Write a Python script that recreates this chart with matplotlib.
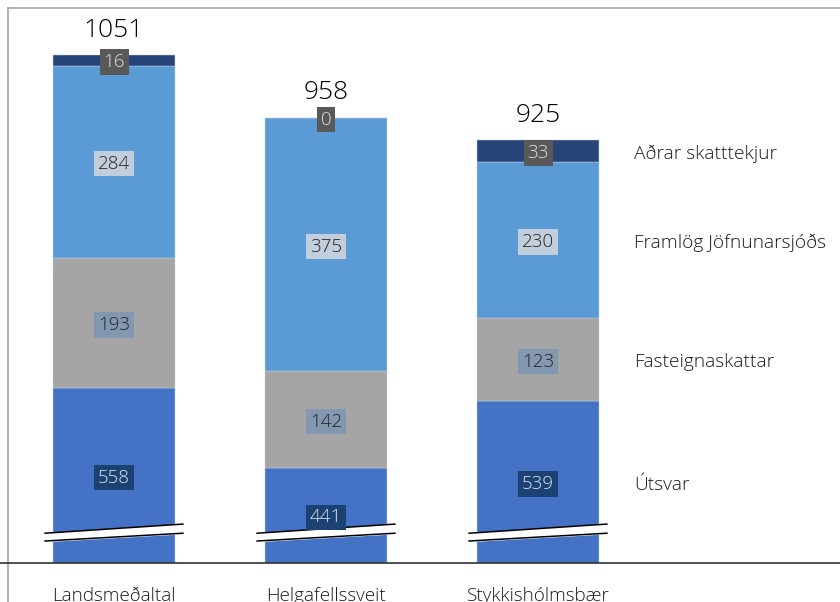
import matplotlib.pyplot as plt
import numpy as np

plt.rcParams['font.family'] = ['Open Sans', 'DejaVu Sans']

# data
categories = ["Landsmeðaltal", "Helgafellssveit", "Stykkishólmsbær"]
series_names = ["Útsvar", "Fasteignaskattar", "Framlög Jöfnunarsjóðs", "Aðrar skatttekjur"]
utsvar = [558, 441, 539]
fasteign = [193, 142, 123]
framlog = [284, 375, 230]
adrar = [16, 0, 33]
totals = [1051, 958, 925]

y_min, y_max = 300, 1120

bar_colors = ["#4472C4", "#A5A5A5", "#5B9BD5", "#264478"]
box_colors = ["#1B4272", "#8497B0", "#C3CEDC", "#595959"]
txt_colors = ["#DCE6F2", "#222222", "#222222", "#E0E0E0"]

fig = plt.figure(figsize=(8.4, 6.02), dpi=100)
ax = fig.add_axes([8 / 840, 39 / 602, 832 / 840, 555 / 602])

x = np.arange(len(categories))
width = 0.575
series = [utsvar, fasteign, framlog, adrar]
bottom = np.zeros(len(categories))
for k, vals in enumerate(series):
    vals = np.array(vals, dtype=float)
    ax.bar(x, vals, width, bottom=bottom, color=bar_colors[k],
           edgecolor="#C9D6E6", linewidth=0.3, zorder=2)
    for i in range(len(x)):
        lo = max(bottom[i], y_min)
        hi = bottom[i] + vals[i]
        ymid = (lo + hi) / 2
        ax.text(x[i], ymid - 3, f"{int(vals[i])}", ha="center", va="center",
                fontsize=13.5, color=txt_colors[k], fontweight="light", zorder=5,
                bbox=dict(boxstyle="square,pad=0.2", fc=box_colors[k], ec="none"))
        if i == len(x) - 1:
            ax.text(2.453, ymid - 4, series_names[k], ha="left", va="center",
                    fontsize=13.8, color="#1A1A1A", fontweight="light")
    bottom += vals

for i in range(len(x)):
    ax.text(x[i], totals[i] + 18, str(totals[i]), ha="center", va="bottom",
            fontsize=19, color="black", fontweight="light")

# axis break marks
for i in range(len(x)):
    xs = np.array([x[i] - 0.325, x[i] + 0.325])
    top_line = np.array([344, 357.5])
    bot_line = np.array([332.5, 344])
    ax.fill_between(xs, bot_line, top_line, color="white", zorder=3)
    ax.plot(xs, top_line, color="black", lw=1.1, zorder=4)
    ax.plot(xs, bot_line, color="black", lw=1.1, zorder=4)

ax.set_xlim(-0.5, 3.4245)
ax.set_ylim(y_min, y_max)
ax.set_yticks([])
ax.set_xticks(x)
ax.set_xticklabels(categories, fontsize=13.6, fontweight="light", color="#1A1A1A")
ax.tick_params(axis="x", length=0, pad=17)
for s in ax.spines.values():
    s.set_visible(False)

# frame lines
fig.add_artist(plt.Line2D([8 / 840, 1], [594 / 602, 594 / 602], color="#A6A6A6", lw=1.2))
fig.add_artist(plt.Line2D([8 / 840, 8 / 840], [0, 594 / 602], color="#A6A6A6", lw=1.2))
fig.add_artist(plt.Line2D([0, 1], [39 / 602, 39 / 602], color="#333333", lw=1.2))

fig.savefig("out.png", dpi=100)
